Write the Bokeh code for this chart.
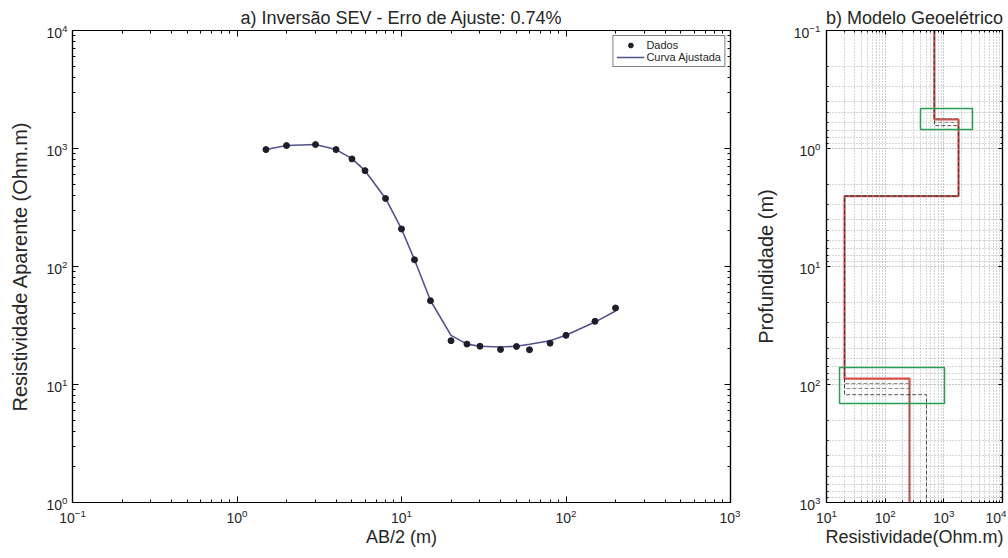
import numpy as np
from bokeh.plotting import figure
from bokeh.models import (FixedTicker, CustomJSTickFormatter, LogAxis, Range1d,
                          BoxAnnotation)
from bokeh.layouts import row
from bokeh.embed import file_html
from bokeh.resources import INLINE

# ---------------- data ----------------
ab2 = [1.5, 2, 3, 4, 5, 6, 8, 10, 12, 15, 20, 25, 30, 40, 50, 60, 80, 100, 150, 200]
rho_obs = [979, 1059, 1080, 979, 816, 649, 377, 208, 114, 51.3, 23.5, 22.0, 21.1,
           19.8, 21.0, 19.7, 22.4, 26.1, 34.3, 44.5]
rho_fit = [979, 1059, 1080, 979, 820, 649, 377, 208, 114, 51.5, 26.1, 22.0, 21.1,
           20.8, 21.1, 21.9, 23.5, 26.1, 33.8, 42.0]

# geoelectric model (resistivity of each layer, depth of each interface)
model_rho = [690, 1780, 20.3, 260]
model_depth = [0.567, 2.53, 89]

# equivalent models (dashed)
alt_rho = [[690, 1780, 20.3, 260], [690, 1780, 20.3, 260], [690, 1780, 20.3, 506]]
alt_depth = [[0.56, 2.53, 98], [0.60, 2.53, 108], [0.64, 2.53, 122]]

# uncertainty boxes (rho_min, rho_max, depth_min, depth_max)
box1 = [400, 3080, 0.458, 0.690]
box2 = [16.7, 1026, 71.8, 145]

title_a = "a) Inversão SEV - Erro de Ajuste: 0.74%"
title_b = "b) Modelo Geoelétrico"
xlabel_a = "AB/2 (m)"
ylabel_a = "Resistividade Aparente (Ohm.m)"
xlabel_b = "Resistividade(Ohm.m)"
ylabel_b = "Profundidade (m)"

FONT = "Liberation Sans"
TXT = "#262626"


def log_ticker(lo, hi):
    majors = [10.0 ** k for k in range(lo, hi + 1)]
    minors = [m * 10.0 ** k for k in range(lo, hi) for m in range(2, 10)]
    return FixedTicker(ticks=majors, minor_ticks=minors)


def style_axis(ax, ticker, labels=True, tick_in=6, minor_in=3, label_size="18px"):
    ax.ticker = ticker
    ax.major_tick_in = tick_in
    ax.major_tick_out = 0
    ax.minor_tick_in = minor_in
    ax.minor_tick_out = 0
    ax.axis_line_color = "black"
    ax.major_tick_line_color = "black"
    ax.minor_tick_line_color = "black"
    ax.axis_line_width = 1.2
    if labels:
        ax.major_label_text_font = FONT
        ax.major_label_text_font_size = "14px"
        ax.major_label_text_color = TXT
        ax.axis_label_text_font = FONT
        ax.axis_label_text_font_size = label_size
        ax.axis_label_text_font_style = "normal"
        ax.axis_label_text_color = TXT
    else:
        ax.formatter = CustomJSTickFormatter(code="return '';")
        ax.major_label_text_font_size = "0px"
        ax.major_label_standoff = 0
        ax.axis_label = None


def style_title(p, text):
    p.title.text = text
    p.title.align = "center"
    p.title.text_font = FONT
    p.title.text_font_size = "18px"
    p.title.text_font_style = "normal"
    p.title.text_color = TXT
    p.title.standoff = 5


H = 556

# ---------------- panel a ----------------
p1 = figure(width=740, height=H, x_axis_type="log", y_axis_type="log",
            x_range=Range1d(0.1, 1000), y_range=Range1d(1, 10000),
            output_backend="svg", toolbar_location=None,
            min_border_left=72, min_border_right=10, min_border_top=30,
            min_border_bottom=H - 502)
style_title(p1, title_a)
p1.outline_line_color = "black"
p1.outline_line_width = 1.2
p1.xgrid.visible = False
p1.ygrid.visible = False

style_axis(p1.xaxis[0], log_ticker(-1, 3), label_size="18px")
style_axis(p1.yaxis[0], log_ticker(0, 4), label_size="20px")
p1.xaxis[0].axis_label = xlabel_a
p1.yaxis[0].axis_label = ylabel_a
p1.xaxis[0].major_label_standoff = 6
p1.xaxis[0].axis_label_standoff = 1
p1.yaxis[0].major_label_standoff = 5
p1.yaxis[0].axis_label_standoff = 12

ax_r = LogAxis()
style_axis(ax_r, log_ticker(0, 4), labels=False)
p1.add_layout(ax_r, "right")
ax_t = LogAxis()
style_axis(ax_t, log_ticker(-1, 3), labels=False)
p1.add_layout(ax_t, "above")

p1.line(ab2, rho_fit, line_color="#52528f", line_width=1.6, legend_label="Curva Ajustada")
p1.scatter(ab2, rho_obs, size=6, fill_color="#1e1e2a", line_color="#1e1e2a",
           legend_label="Dados")

leg = p1.legend[0]
leg.items = [leg.items[1], leg.items[0]]
leg.location = "top_right"
leg.margin = 5
leg.padding = 3
leg.spacing = 0
leg.border_line_color = "black"
leg.border_line_width = 1
leg.label_text_font = FONT
leg.label_text_font_size = "11px"
leg.label_text_color = TXT
leg.label_height = 12
leg.glyph_height = 12
leg.glyph_width = 28
leg.label_standoff = 2

# ---------------- panel b ----------------
p2 = figure(width=266, height=H, x_axis_type="log", y_axis_type="log",
            x_range=Range1d(10, 10000), y_range=Range1d(1000, 0.1),
            output_backend="svg", toolbar_location=None,
            min_border_left=86, min_border_right=4, min_border_top=30,
            min_border_bottom=H - 502)
style_title(p2, title_b)
p2.outline_line_color = "black"
p2.outline_line_width = 1.2

style_axis(p2.xaxis[0], log_ticker(1, 4), tick_in=4, minor_in=2, label_size="18px")
style_axis(p2.yaxis[0], log_ticker(-1, 3), tick_in=4, minor_in=2, label_size="20px")
p2.xaxis[0].axis_label = xlabel_b
p2.yaxis[0].axis_label = ylabel_b
p2.xaxis[0].major_label_standoff = 6
p2.xaxis[0].axis_label_standoff = 1
p2.yaxis[0].major_label_standoff = 6
p2.yaxis[0].axis_label_standoff = 14

ax_r2 = LogAxis()
style_axis(ax_r2, log_ticker(-1, 3), labels=False, tick_in=4, minor_in=2)
p2.add_layout(ax_r2, "right")
ax_t2 = LogAxis()
style_axis(ax_t2, log_ticker(1, 4), labels=False, tick_in=4, minor_in=2)
p2.add_layout(ax_t2, "above")

for g in (p2.xgrid[0], p2.ygrid[0]):
    g.grid_line_color = "#6e6e6e"
    g.grid_line_dash = "1 2"
    g.grid_line_alpha = 0.75
    g.minor_grid_line_color = "#7a7a7a"
    g.minor_grid_line_dash = "1 2"
    g.minor_grid_line_alpha = 0.6


def step_path(rhos, depths, top, bottom):
    xs, ys = [], []
    bounds = [top] + list(depths) + [bottom]
    for i, r in enumerate(rhos):
        xs += [r, r]
        ys += [bounds[i], bounds[i + 1]]
    return xs, ys


y_top, y_bot = 0.1, 1000
mx, my = step_path(model_rho, model_depth, y_top, y_bot)
p2.line(mx, my, line_color="#d9473e", line_width=2.2, line_alpha=0.95)

for k, (ar, ad) in enumerate(zip(alt_rho, alt_depth)):
    ax_, ay_ = step_path(ar, ad, y_top, y_bot)
    col = "#2a2a2a" if k == 2 else "#6e6e6e"
    p2.line(ax_, ay_, line_color=col, line_width=1, line_dash="4 2", line_alpha=0.8)

for b in (box1, box2):
    p2.add_layout(BoxAnnotation(left=b[0], right=b[1], bottom=b[3], top=b[2],
                                fill_alpha=0, line_color="#2a9d55", line_alpha=1.0,
                                line_width=1.5))

layout = row(p1, p2)
open("out.html", "w").write(file_html(layout, INLINE))
